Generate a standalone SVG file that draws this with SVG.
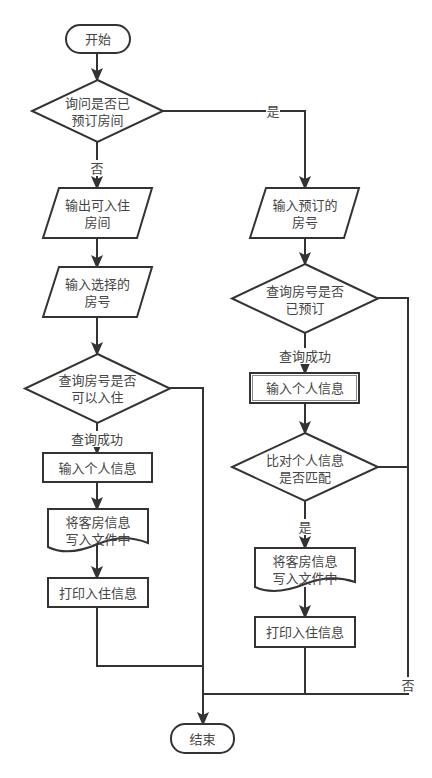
<svg xmlns="http://www.w3.org/2000/svg" width="432" height="778" viewBox="0 0 432 778">
<defs>
<marker id="arr" markerUnits="userSpaceOnUse" markerWidth="12" markerHeight="16" viewBox="0 0 12 16" refX="12" refY="6" orient="auto">
<path d="M0,0 L14,6 L0,12 L3,6 Z" fill="#333"/>
</marker>
<style>
.s{fill:#fff;stroke:#333;stroke-width:2}
.t{font-family:"Liberation Sans","Noto Sans CJK SC",sans-serif;font-size:13px;fill:#444;text-anchor:middle;dominant-baseline:central}
.c{fill:none;stroke:#333;stroke-width:2}
.lb{fill:#fff}
</style>
</defs>
<rect width="432" height="778" fill="#fff"/>
<g id="connectors">
<path class="c" d="M97,53 V80" marker-end="url(#arr)"/>
<path class="c" d="M97,142 V188" marker-end="url(#arr)"/>
<path class="c" d="M163,111 H305 V188" marker-end="url(#arr)"/>
<path class="c" d="M97,238 V267" marker-end="url(#arr)"/>
<path class="c" d="M97,317 V354" marker-end="url(#arr)"/>
<path class="c" d="M97,423 V453" marker-end="url(#arr)"/>
<path class="c" d="M97,482 V509" marker-end="url(#arr)"/>
<path class="c" d="M97,545 V578" marker-end="url(#arr)"/>
<path class="c" d="M97,607 V666 H203"/>
<path class="c" d="M170,388 H203 V724" marker-end="url(#arr)"/>
<path class="c" d="M305,238 V264" marker-end="url(#arr)"/>
<path class="c" d="M305,333 V373" marker-end="url(#arr)"/>
<path class="c" d="M305,403 V433" marker-end="url(#arr)"/>
<path class="c" d="M378,298 H408 V694 H203"/>
<path class="c" d="M378,467 H408"/>
<path class="c" d="M305,501 V548" marker-end="url(#arr)"/>
<path class="c" d="M305,587 V617" marker-end="url(#arr)"/>
<path class="c" d="M305,647 V694"/>
<rect class="lb" x="90" y="160" width="14" height="16"/>
<text class="t" x="97" y="168">否</text>
<rect class="lb" x="266" y="103" width="14" height="16"/>
<text class="t" x="273" y="111">是</text>
<rect class="lb" x="71" y="431" width="52" height="16"/>
<text class="t" x="97" y="439">查询成功</text>
<rect class="lb" x="279" y="348" width="52" height="16"/>
<text class="t" x="305" y="356">查询成功</text>
<rect class="lb" x="298" y="519" width="14" height="16"/>
<text class="t" x="305" y="527">是</text>
<rect class="lb" x="401" y="677" width="14" height="16"/>
<text class="t" x="408" y="685">否</text>
</g>
<g id="start">
<rect class="s" x="66" y="25" width="64" height="28" rx="14"/>
<text class="t" x="98" y="39">开始</text>
</g>
<g id="d1">
<path class="s" d="M97.5,80 L163,111 L97.5,142 L32,111 Z"/>
<text class="t" x="97.5" y="103">询问是否已</text>
<text class="t" x="97.5" y="120">预订房间</text>
</g>
<g id="p1">
<path class="s" d="M59,188 H152 L137,238 H43 Z"/>
<text class="t" x="97.5" y="205">输出可入住</text>
<text class="t" x="97.5" y="222">房间</text>
</g>
<g id="p2">
<path class="s" d="M59,267 H152 L137,317 H43 Z"/>
<text class="t" x="97.5" y="284">输入选择的</text>
<text class="t" x="97.5" y="301">房号</text>
</g>
<g id="d2">
<path class="s" d="M97.5,354 L170,388.5 L97.5,423 L25,388.5 Z"/>
<text class="t" x="97.5" y="380">查询房号是否</text>
<text class="t" x="97.5" y="397">可以入住</text>
</g>
<g id="b1">
<rect class="s" x="43" y="453" width="109" height="29"/>
<text class="t" x="97.5" y="468">输入个人信息</text>
</g>
<g id="doc1">
<path class="s" d="M48,509 H148 V543 C128,535 112,538 98,544 C84,550 64,555 48,547 Z"/>
<text class="t" x="98" y="522">将客房信息</text>
<text class="t" x="98" y="539">写入文件中</text>
</g>
<g id="b2">
<rect class="s" x="48" y="578" width="100" height="29"/>
<text class="t" x="98" y="593">打印入住信息</text>
</g>
<g id="end">
<rect class="s" x="171" y="724" width="63" height="29" rx="14"/>
<text class="t" x="202.5" y="739">结束</text>
</g>
<g id="p3">
<path class="s" d="M266,188 H359 L344,238 H250 Z"/>
<text class="t" x="305" y="205">输入预订的</text>
<text class="t" x="305" y="222">房号</text>
</g>
<g id="d3">
<path class="s" d="M305,264 L378,298.5 L305,333 L232,298.5 Z"/>
<text class="t" x="305" y="291">查询房号是否</text>
<text class="t" x="305" y="308">已预订</text>
</g>
<g id="b3">
<rect class="s" x="250" y="373" width="109" height="30"/>
<rect x="252.5" y="375.5" width="104" height="25" fill="none" stroke="#888" stroke-width="1"/>
<text class="t" x="305" y="388">输入个人信息</text>
</g>
<g id="d4">
<path class="s" d="M305,433 L378,467 L305,501 L232,467 Z"/>
<text class="t" x="305" y="460">比对个人信息</text>
<text class="t" x="305" y="477">是否匹配</text>
</g>
<g id="doc2">
<path class="s" d="M255,548 H355 V582 C337,576 320,578 305,584 C290,590 272,595 255,587 Z"/>
<text class="t" x="305" y="561">将客房信息</text>
<text class="t" x="305" y="578">写入文件中</text>
</g>
<g id="b4">
<rect class="s" x="255" y="617" width="100" height="30"/>
<text class="t" x="305" y="632">打印入住信息</text>
</g>
</svg>
